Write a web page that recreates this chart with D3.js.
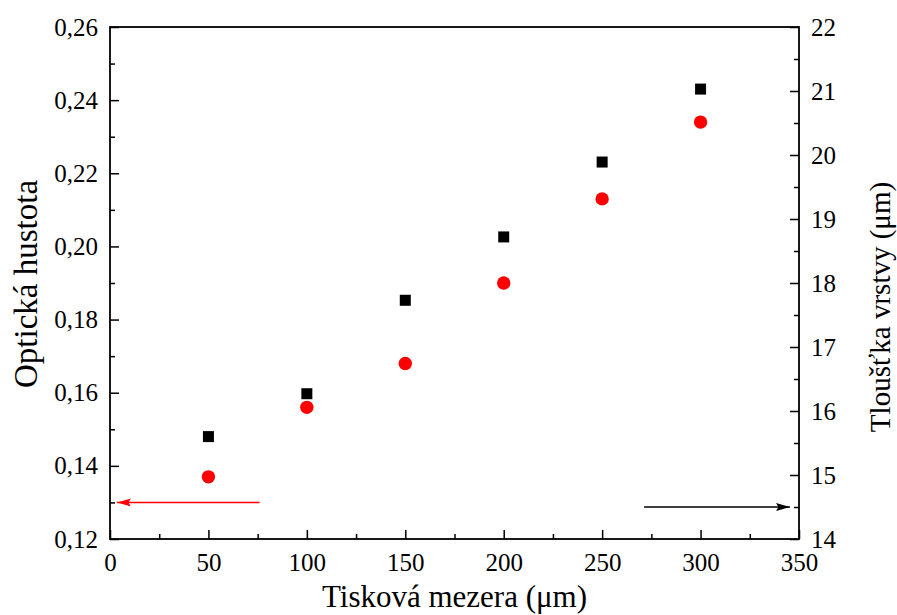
<!DOCTYPE html>
<html>
<head>
<meta charset="utf-8">
<script src="https://cdn.jsdelivr.net/npm/d3@7"></script>
<style>
  body { margin: 0; background: #fff; }
  svg text { font-family: 'Liberation Serif', 'Times New Roman', serif; fill: #000; }
</style>
</head>
<body>
<div id="chart"></div>
<script>
// hodnoty
var mezera = [50, 100, 150, 200, 250, 300];
var hustota = [0.137, 0.156, 0.168, 0.190, 0.213, 0.234];
var tloustka = [15.6, 16.27, 17.73, 18.72, 19.89, 21.03];
var xTicks = [0, 50, 100, 150, 200, 250, 300, 350];
var yLeftTicks = [0.12, 0.14, 0.16, 0.18, 0.20, 0.22, 0.24, 0.26];
var yRightTicks = [14, 15, 16, 17, 18, 19, 20, 21, 22];

var serif = "'Liberation Serif', 'Times New Roman', serif";

var margin = {top: 27, right: 98, bottom: 76, left: 110},
    width = 897 - margin.left - margin.right,
    height = 615 - margin.top - margin.bottom;

var x = d3.scaleLinear().domain([0, 350]).range([0, width]);
var yL = d3.scaleLinear().domain([0.12, 0.26]).range([height, 0]);
var yR = d3.scaleLinear().domain([14, 22]).range([height, 0]);

var svg = d3.select("#chart").append("svg")
    .attr("width", 897)
    .attr("height", 615)
    .attr("font-family", serif);

var defs = svg.append("defs");
function marker(id, color) {
  defs.append("marker")
    .attr("id", id)
    .attr("viewBox", "0 0 14 8")
    .attr("refX", 14).attr("refY", 4)
    .attr("markerWidth", 14).attr("markerHeight", 8)
    .attr("markerUnits", "userSpaceOnUse")
    .attr("orient", "auto")
    .append("path")
    .attr("d", "M0,0L14,4L0,8L2.5,4Z")
    .attr("fill", color);
}
marker("arrRed", "#ff0000");
marker("arrBlack", "#000");

var g = svg.append("g")
    .attr("transform", "translate(" + margin.left + "," + margin.top + ")");

function fmt(d) { return d3.format(".2f")(d).replace(".", ","); }

function styleAxis(sel) {
  sel.attr("font-family", serif).attr("font-size", 25);
  sel.select(".domain").remove();
  sel.selectAll("line").attr("stroke", "#000").attr("stroke-width", 1.5);
  sel.selectAll("text")
    .style("font-family", serif)
    .style("font-size", "25px");
}

// vedlejší značky mezi hlavními
function mids(arr) {
  var out = [];
  for (var i = 0; i < arr.length - 1; i++) out.push((arr[i] + arr[i + 1]) / 2);
  return out;
}

g.append("g").attr("transform", "translate(0," + height + ")")
  .call(d3.axisBottom(x).tickValues(xTicks).tickSize(-9).tickPadding(14))
  .call(styleAxis);
g.append("g").attr("transform", "translate(0," + height + ")")
  .call(d3.axisBottom(x).tickValues(mids(xTicks)).tickSize(-5).tickFormat(""))
  .call(styleAxis);

g.append("g")
  .call(d3.axisLeft(yL).tickValues(yLeftTicks).tickSize(-9).tickPadding(12).tickFormat(fmt))
  .call(styleAxis);
g.append("g")
  .call(d3.axisLeft(yL).tickValues(mids(yLeftTicks)).tickSize(-5).tickFormat(""))
  .call(styleAxis);

g.append("g").attr("transform", "translate(" + width + ",0)")
  .call(d3.axisRight(yR).tickValues(yRightTicks).tickSize(-9).tickPadding(12).tickFormat(d3.format("d")))
  .call(styleAxis);
g.append("g").attr("transform", "translate(" + width + ",0)")
  .call(d3.axisRight(yR).tickValues(mids(yRightTicks)).tickSize(-5).tickFormat(""))
  .call(styleAxis);

// rámeček
g.append("rect")
  .attr("width", width).attr("height", height)
  .attr("fill", "none").attr("stroke", "#000").attr("stroke-width", 1.8);

// tloušťka vrstvy - čtverce (pravá osa)
g.selectAll(".sq").data(mezera).enter().append("rect")
  .attr("class", "sq")
  .attr("x", function(d) { return x(d) - 5.5; })
  .attr("y", function(d, i) { return yR(tloustka[i]) - 5.5; })
  .attr("width", 11).attr("height", 11)
  .attr("fill", "#000");

// optická hustota - kruhy (levá osa)
g.selectAll(".dot").data(mezera).enter().append("circle")
  .attr("class", "dot")
  .attr("cx", function(d) { return x(d); })
  .attr("cy", function(d, i) { return yL(hustota[i]); })
  .attr("r", 6.7)
  .attr("fill", "#ff0000");

// šipky k osám
g.append("line")
  .attr("x1", x(76)).attr("x2", x(3.5))
  .attr("y1", yL(0.13)).attr("y2", yL(0.13))
  .attr("stroke", "#ff0000").attr("stroke-width", 1.5)
  .attr("marker-end", "url(#arrRed)");
g.append("line")
  .attr("x1", x(271.3)).attr("x2", x(345.4))
  .attr("y1", yR(14.5)).attr("y2", yR(14.5))
  .attr("stroke", "#000").attr("stroke-width", 1.5)
  .attr("marker-end", "url(#arrBlack)");

// popisky os
svg.append("text")
  .attr("x", margin.left + width / 2).attr("y", 607)
  .attr("text-anchor", "middle")
  .attr("font-size", 31)
  .text("Tisková mezera (μm)");

svg.append("text")
  .attr("transform", "translate(37,284) rotate(-90)")
  .attr("text-anchor", "middle")
  .attr("font-size", 33)
  .text("Optická hustota");

svg.append("text")
  .attr("transform", "translate(890,307) rotate(-90)")
  .attr("text-anchor", "middle")
  .attr("font-size", 29)
  .text("Tloušťka vrstvy (μm)");
</script>
</body>
</html>
